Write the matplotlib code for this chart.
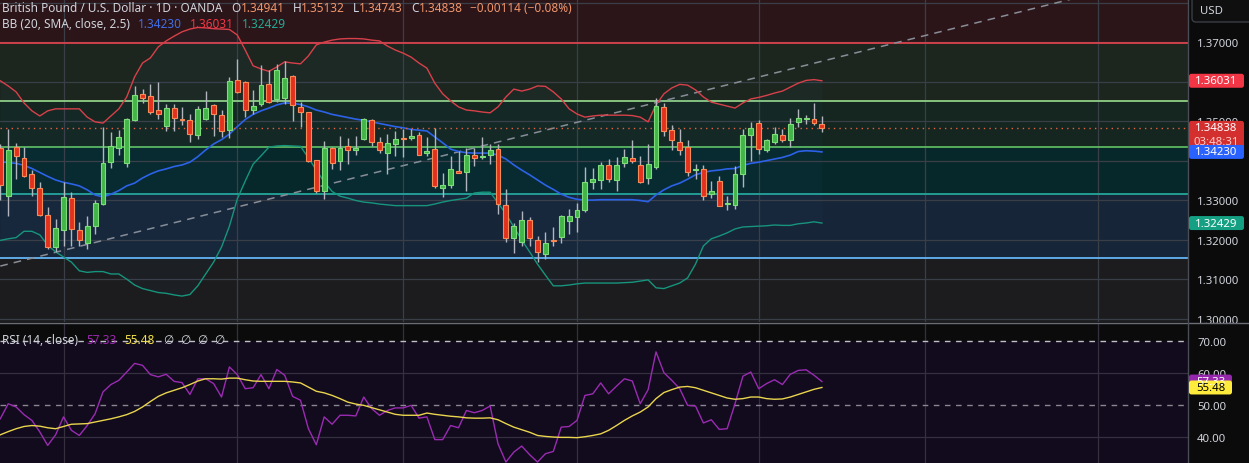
import matplotlib
matplotlib.use("Agg")
import matplotlib.pyplot as plt
from matplotlib.patches import FancyBboxPatch
from matplotlib.lines import Line2D
from matplotlib.transforms import IdentityTransform
import numpy as np

# ---------------- data ----------------
opens = [1.3433, 1.3312, 1.3435, 1.3408, 1.3367, 1.3331, 1.3264, 1.3183, 1.3226, 1.3306,
         1.3225, 1.3192, 1.3236, 1.3291, 1.3397, 1.3432, 1.3394, 1.3503, 1.3569, 1.3564,
         1.3528, 1.3488, 1.3534, 1.3506, 1.3503, 1.3467, 1.3506, 1.3542, 1.3517, 1.3478,
         1.3605, 1.3599, 1.3530, 1.3544, 1.3594, 1.3557, 1.3559, 1.3615, 1.3536, 1.3523,
         1.3402, 1.3325, 1.3432, 1.3401, 1.3437, 1.3427, 1.3456, 1.3504, 1.3448, 1.3421,
         1.3444, 1.3457, 1.3458, 1.3467, 1.3419, 1.3431, 1.3331, 1.3340, 1.3374, 1.3372,
         1.3415, 1.3409, 1.3416, 1.3431, 1.3288, 1.3206, 1.3194, 1.3250, 1.3199, 1.3164,
         1.3199, 1.3207, 1.3249, 1.3258, 1.3277, 1.3346, 1.3352, 1.3390, 1.3353, 1.3394,
         1.3408, 1.3390, 1.3357, 1.3384, 1.3537, 1.3479, 1.3448, 1.3435, 1.3377, 1.3380,
         1.3317, 1.3349, 1.3291, 1.3289, 1.3368, 1.3467, 1.3496, 1.3429, 1.3448, 1.3466,
         1.3454, 1.3498, 1.3506, 1.3506, 1.34941]
highs = [1.3443, 1.3481, 1.3446, 1.3436, 1.3378, 1.3347, 1.3284, 1.3253, 1.3346, 1.3321,
         1.3245, 1.3262, 1.3302, 1.3485, 1.3474, 1.3479, 1.3509, 1.3591, 1.3581, 1.3595,
         1.3599, 1.3544, 1.3544, 1.3536, 1.3519, 1.3539, 1.3578, 1.3544, 1.3529, 1.3612,
         1.3658, 1.3603, 1.3580, 1.3643, 1.3631, 1.3646, 1.3652, 1.3618, 1.3549, 1.3525,
         1.3403, 1.3450, 1.3436, 1.3463, 1.3458, 1.3463, 1.3509, 1.3506, 1.3460, 1.3469,
         1.3477, 1.3481, 1.3481, 1.3473, 1.3460, 1.3483, 1.3369, 1.3412, 1.3426, 1.3432,
         1.3432, 1.3460, 1.3443, 1.3443, 1.3328, 1.3243, 1.3273, 1.3259, 1.3211, 1.3220,
         1.3232, 1.3264, 1.3279, 1.3294, 1.3384, 1.3382, 1.3397, 1.3404, 1.3410, 1.3431,
         1.3452, 1.3412, 1.3443, 1.3559, 1.3547, 1.3490, 1.3481, 1.3454, 1.3393, 1.3390,
         1.3350, 1.3363, 1.3311, 1.3387, 1.3481, 1.3498, 1.3505, 1.3456, 1.3485, 1.3481,
         1.3508, 1.3532, 1.3517, 1.3547, 1.35132]
lows = [1.3300, 1.3262, 1.3355, 1.3360, 1.3312, 1.3262, 1.3178, 1.3170, 1.3186, 1.3186,
        1.3186, 1.3178, 1.3215, 1.3289, 1.3382, 1.3414, 1.3384, 1.3502, 1.3547, 1.3519,
        1.3506, 1.3477, 1.3477, 1.3490, 1.3449, 1.3456, 1.3505, 1.3464, 1.3460, 1.3458,
        1.3572, 1.3512, 1.3519, 1.3540, 1.3547, 1.3549, 1.3544, 1.3502, 1.3487, 1.3397,
        1.3319, 1.3304, 1.3380, 1.3376, 1.3393, 1.3414, 1.3452, 1.3439, 1.3420, 1.3367,
        1.3412, 1.3410, 1.3452, 1.3414, 1.3412, 1.3332, 1.3308, 1.3332, 1.3369, 1.3325,
        1.3387, 1.3405, 1.3393, 1.3266, 1.3196, 1.3167, 1.3186, 1.3186, 1.3144, 1.3152,
        1.3186, 1.3193, 1.3214, 1.3221, 1.3270, 1.3329, 1.3329, 1.3346, 1.3325, 1.3384,
        1.3394, 1.3345, 1.3342, 1.3380, 1.3463, 1.3429, 1.3414, 1.3361, 1.3355, 1.3300,
        1.3307, 1.3285, 1.3275, 1.3279, 1.3335, 1.3401, 1.3418, 1.3422, 1.3443, 1.3448,
        1.3435, 1.3485, 1.3494, 1.3491, 1.34743]
closes = [1.3340, 1.3428, 1.3412, 1.3363, 1.3331, 1.3264, 1.3183, 1.3230, 1.3308, 1.3227,
          1.3199, 1.3236, 1.3293, 1.3395, 1.3437, 1.3460, 1.3506, 1.3567, 1.3560, 1.3525,
          1.3518, 1.3534, 1.3508, 1.3504, 1.3468, 1.3532, 1.3534, 1.3518, 1.3475, 1.3602,
          1.3574, 1.3530, 1.3539, 1.3592, 1.3549, 1.3631, 1.3610, 1.3542, 1.3523, 1.3400,
          1.3323, 1.3433, 1.3394, 1.3433, 1.3429, 1.3433, 1.3506, 1.3448, 1.3427, 1.3445,
          1.3456, 1.3456, 1.3464, 1.3415, 1.3426, 1.3336, 1.3340, 1.3380, 1.3369, 1.3414,
          1.3407, 1.3413, 1.3427, 1.3292, 1.3205, 1.3235, 1.3250, 1.3205, 1.3169, 1.3193,
          1.3198, 1.3261, 1.3261, 1.3276, 1.3346, 1.3355, 1.3390, 1.3355, 1.3390, 1.3410,
          1.3401, 1.3346, 1.3392, 1.3539, 1.3477, 1.3452, 1.3429, 1.3373, 1.3378, 1.3312,
          1.3324, 1.3287, 1.3292, 1.3367, 1.3466, 1.3483, 1.3431, 1.3453, 1.3469, 1.3454,
          1.3494, 1.3508, 1.3507, 1.3495, 1.34838]

bb_upper = [1.3603, 1.3590, 1.3575, 1.3547, 1.3527, 1.3514, 1.3527, 1.3532, 1.3532, 1.3532,
            1.3532, 1.3511, 1.3499, 1.3496, 1.3514, 1.3532, 1.3562, 1.3613, 1.3648, 1.3661,
            1.3689, 1.3704, 1.3716, 1.3727, 1.3734, 1.3738, 1.3737, 1.3735, 1.3734, 1.3733,
            1.3719, 1.3681, 1.3641, 1.3633, 1.3627, 1.3638, 1.3651, 1.3648, 1.3646, 1.3666,
            1.3694, 1.3701, 1.3706, 1.3709, 1.3710, 1.3710, 1.3709, 1.3706, 1.3704, 1.3691,
            1.3681, 1.3673, 1.3663, 1.3648, 1.3635, 1.3597, 1.3570, 1.3552, 1.3537, 1.3529,
            1.3527, 1.3524, 1.3522, 1.3537, 1.3562, 1.3582, 1.3577, 1.3582, 1.3590, 1.3589,
            1.3575, 1.3557, 1.3532, 1.3519, 1.3511, 1.3514, 1.3516, 1.3516, 1.3516, 1.3516,
            1.3515, 1.3511, 1.3499, 1.3542, 1.3570, 1.3585, 1.3594, 1.3592, 1.3580, 1.3562,
            1.3549, 1.3544, 1.3539, 1.3534, 1.3547, 1.3557, 1.3561, 1.3566, 1.3572, 1.3577,
            1.3587, 1.3597, 1.3604, 1.3606, 1.36031]
bb_mid = [1.3398, 1.3396, 1.3394, 1.3389, 1.3381, 1.3371, 1.3361, 1.3352, 1.3346, 1.3342,
          1.3337, 1.3327, 1.3314, 1.3309, 1.3316, 1.3325, 1.3337, 1.3344, 1.3357, 1.3367,
          1.3375, 1.3380, 1.3386, 1.3390, 1.3397, 1.3411, 1.3428, 1.3443, 1.3454, 1.3468,
          1.3487, 1.3505, 1.3518, 1.3527, 1.3534, 1.3542, 1.3547, 1.3546, 1.3543, 1.3537,
          1.3529, 1.3524, 1.3518, 1.3514, 1.3510, 1.3506, 1.3503, 1.3499, 1.3495, 1.3491,
          1.3487, 1.3484, 1.3480, 1.3478, 1.3476, 1.3461, 1.3446, 1.3430, 1.3424, 1.3421,
          1.3420, 1.3420, 1.3420, 1.3415, 1.3405, 1.3390, 1.3377, 1.3365, 1.3352, 1.3339,
          1.3328, 1.3316, 1.3308, 1.3303, 1.3301, 1.3301, 1.3302, 1.3302, 1.3302, 1.3302,
          1.3302, 1.3300, 1.3297, 1.3314, 1.3327, 1.3337, 1.3344, 1.3354, 1.3365, 1.3371,
          1.3375, 1.3377, 1.3380, 1.3381, 1.3389, 1.3394, 1.3397, 1.3401, 1.3405, 1.3409,
          1.3415, 1.3424, 1.3426, 1.3425, 1.34230]
bb_lower = [1.3199, 1.3203, 1.3206, 1.3222, 1.3222, 1.3213, 1.3187, 1.3170, 1.3157, 1.3144,
            1.3122, 1.3118, 1.3120, 1.3120, 1.3114, 1.3114, 1.3101, 1.3086, 1.3077, 1.3072,
            1.3067, 1.3065, 1.3061, 1.3058, 1.3062, 1.3084, 1.3114, 1.3144, 1.3182, 1.3235,
            1.3304, 1.3349, 1.3392, 1.3413, 1.3435, 1.3438, 1.3439, 1.3438, 1.3437, 1.3408,
            1.3377, 1.3347, 1.3323, 1.3311, 1.3306, 1.3300, 1.3296, 1.3294, 1.3291, 1.3289,
            1.3287, 1.3287, 1.3287, 1.3287, 1.3287, 1.3291, 1.3296, 1.3300, 1.3303, 1.3306,
            1.3319, 1.3321, 1.3321, 1.3294, 1.3266, 1.3233, 1.3200, 1.3170, 1.3139, 1.3111,
            1.3084, 1.3084, 1.3086, 1.3089, 1.3091, 1.3091, 1.3091, 1.3091, 1.3091, 1.3092,
            1.3093, 1.3096, 1.3099, 1.3079, 1.3077, 1.3084, 1.3091, 1.3104, 1.3139, 1.3185,
            1.3203, 1.3210, 1.3218, 1.3228, 1.3233, 1.3234, 1.3235, 1.3236, 1.3238, 1.3237,
            1.3237, 1.3241, 1.3243, 1.3246, 1.32429]

rsi = [45.7, 50.4, 49.4, 47.0, 45.2, 41.6, 37.4, 40.7, 46.3, 42.1,
       40.5, 43.6, 47.3, 54.1, 56.4, 57.7, 60.3, 63.0, 62.4, 59.5,
       58.8, 59.6, 57.4, 57.0, 53.3, 58.2, 58.2, 56.7, 52.5, 61.9,
       59.5, 55.1, 55.4, 59.5, 55.1, 61.1, 59.3, 52.7, 51.5, 42.6,
       37.6, 46.3, 44.0, 46.8, 46.8, 46.6, 52.5, 48.9, 46.8, 48.3,
       49.1, 49.1, 49.9, 45.9, 46.3, 39.2, 39.2, 43.6, 42.9, 48.3,
       47.6, 48.3, 49.7, 37.9, 32.2, 35.3, 37.2, 34.5, 32.2, 34.8,
       35.5, 43.1, 43.3, 45.2, 53.0, 53.5, 56.9, 53.5, 55.9, 58.2,
       57.5, 50.4, 54.8, 66.6, 60.1, 57.7, 55.1, 49.9, 49.7, 44.4,
       45.4, 42.4, 42.6, 50.4, 59.0, 60.3, 55.1, 56.7, 57.9, 56.4,
       59.6, 60.8, 61.0, 59.3, 57.33]
rsi_ma = [40.7, 41.7, 42.6, 43.3, 43.6, 43.4, 42.9, 42.6, 43.3, 44.0,
          44.1, 44.2, 44.7, 45.2, 45.7, 46.3, 47.0, 48.0, 49.4, 51.1,
          52.7, 53.8, 54.6, 55.4, 56.4, 57.5, 58.2, 58.2, 58.1, 58.4,
          58.4, 57.9, 57.5, 57.4, 57.4, 57.4, 57.4, 57.2, 56.9, 55.6,
          54.3, 53.8, 53.0, 52.0, 50.9, 50.3, 49.9, 49.2, 48.5, 47.8,
          47.1, 46.8, 46.8, 46.8, 47.5, 47.1, 46.8, 46.5, 46.3, 46.0,
          45.9, 45.9, 46.0, 45.4, 44.2, 43.1, 42.3, 41.5, 40.5, 40.2,
          40.0, 39.9, 39.9, 39.8, 40.1, 40.5, 41.0, 42.1, 43.6, 45.2,
          46.6, 47.8, 49.4, 52.0, 53.9, 54.8, 55.6, 55.8, 55.4, 54.6,
          53.8, 53.0, 52.2, 51.8, 52.0, 52.5, 52.5, 52.0, 51.8, 51.9,
          52.5, 53.3, 54.1, 54.9, 55.48]

level_prices = [1.3698, 1.3552, 1.3435, 1.3317, 1.3154]
month_starts = [8, 30, 51, 73, 96, 117, 139]
trend_idx = [0, 137]
trend_price = [1.3134, 1.3817]
price_ticks = [1.30, 1.31, 1.32, 1.33, 1.34, 1.35, 1.36, 1.37]
hidden_ticks = [1.34, 1.36]          # fully covered by price tags in the reference
rsi_ticks = [40, 50, 60, 70]
title = "British Pound / U.S. Dollar · 1D · OANDA"
change_text = "\u22120.00114 (\u22120.08%)"
countdown = "03:48:31"

# ---------------- figure ----------------
W, H = 1249, 464
fig = plt.figure(figsize=(W / 100, H / 100), dpi=100, facecolor="#0b0b0b")
FONT = "Noto Sans"
plt.rcParams["font.family"] = [FONT, "DejaVu Sans"]

chart_right = 1188
ax = fig.add_axes([0, (H - 323) / H, chart_right / W, 323 / H])
rax = fig.add_axes([0, 0, chart_right / W, 139 / H])

n = len(closes)
idx = np.arange(n)
x0, x1 = -0.038, 150.34
for a in (ax, rax):
    a.set_xlim(x0, x1)
    for s in a.spines.values():
        s.set_visible(False)
    a.set_xticks([])
    a.yaxis.tick_right()
    a.tick_params(axis="y", length=0, pad=6.5, labelsize=8.2, labelcolor="#d1d4dc")

ax.set_ylim(1.29924, 1.38101)
rax.set_ylim(31.9, 75.3)

# background bands
band_edges = [1.40] + level_prices + [1.28]
band_colors = ["#2b1519", "#1c261f", "#14261f", "#07282a", "#172538", "#1c1c1e"]
for top, bot, col in zip(band_edges[:-1], band_edges[1:], band_colors):
    ax.axhspan(bot, top, color=col, zorder=0, lw=0)

# grid
for p in price_ticks + [1.38]:
    ax.axhline(p, color="#3a3e46", lw=0.9, zorder=1)
for m in month_starts:
    ax.axvline(m, color="#3a3e46", lw=0.9, zorder=1)
    rax.axvline(m, color="#352f3e", lw=0.9, zorder=1)

level_colors = ["#d9424c", "#8fcf86", "#5cb85f", "#26a69a", "#64b5f6"]
for p, c in zip(level_prices, level_colors):
    ax.axhline(p, color=c, lw=1.3, zorder=2)

# trend line
ax.plot(trend_idx, trend_price, color="#8a8d96", lw=1.1, ls=(0, (5, 4)), zorder=2)

# Bollinger bands
ax.fill_between(idx, bb_lower, bb_upper, color="#2196f3", alpha=0.03, lw=0, zorder=2)
ax.plot(idx, bb_upper, color="#d8404a", lw=1.0, zorder=3)
ax.plot(idx, bb_mid, color="#2c62e8", lw=1.2, zorder=3)
ax.plot(idx, bb_lower, color="#16947c", lw=1.0, zorder=3)

# last price dotted line
ax.axhline(closes[-1], color="#e8603c", lw=1.0, ls=(0, (1, 3)), zorder=3)

# candles
o = np.array(opens); c = np.array(closes); h = np.array(highs); l = np.array(lows)
up = c >= o
ax.vlines(idx, l, h, color="#b2b5be", lw=1.0, zorder=4)
bottoms = np.minimum(o, c)
heights = np.maximum(np.abs(c - o), 0.00025)
ax.bar(idx[up], heights[up], bottom=bottoms[up], width=0.62, color="#43b548",
       edgecolor="#7fdc7a", lw=0.8, zorder=5)
ax.bar(idx[~up], heights[~up], bottom=bottoms[~up], width=0.62, color="#e2321f",
       edgecolor="#f78a55", lw=0.8, zorder=5)

# price axis ticks
ax.set_yticks(price_ticks)
ax.set_yticklabels(["" if any(abs(p - q) < 1e-9 for q in hidden_ticks) else f"{p:.5f}"
                    for p in price_ticks])

# ---------------- RSI panel ----------------
rax.set_facecolor("#0b0b0b")
rax.axhspan(30, 70, color="#120a1d", lw=0, zorder=0)
for v in (40, 60):
    rax.axhline(v, color="#35303f", lw=0.9, zorder=1)
rax.axhline(70, color="#c0c0c8", lw=1.0, ls=(0, (4, 4)), zorder=2)
rax.axhline(50, color="#8a8792", lw=1.0, ls=(0, (4, 4)), zorder=2)
rax.plot(idx, rsi, color="#9a2bb2", lw=1.0, zorder=3)
rax.plot(idx, rsi_ma, color="#e9d54e", lw=1.0, zorder=4)
rax.set_yticks(rsi_ticks)
rax.set_yticklabels([f"{v:.2f}" for v in rsi_ticks])

# separators
fig.add_artist(Line2D([0, 1], [(H - 324) / H] * 2, transform=fig.transFigure,
                      color="#6a6d76", lw=1.0))
fig.add_artist(Line2D([chart_right / W] * 2, [0, 1], transform=fig.transFigure,
                      color="#4a4d55", lw=1.0))

# ---------------- price tags ----------------
def tag(a, value, lines, fc, tc, x_left=1189, x_right=1244, h=14, sub_col=None):
    y = a.transData.transform((0, value))[1]
    hh = h if len(lines) == 1 else 30
    top = y + h / 2
    box = FancyBboxPatch((x_left, top - hh), x_right - x_left, hh,
                         boxstyle="round,pad=0,rounding_size=2.5",
                         fc=fc, ec="none", transform=IdentityTransform(), zorder=5)
    fig.add_artist(box)
    cx = (x_left + x_right) / 2
    fig.text(cx / W, y / H, lines[0], color=tc, fontsize=8.2, ha="center", va="center",
             zorder=6)
    if len(lines) > 1:
        fig.text(cx / W, (y - 14) / H, lines[1], color=sub_col or tc, fontsize=8.2,
                 ha="center", va="center", zorder=6)

tag(ax, bb_upper[-1], [f"{bb_upper[-1]:.5f}"], "#f23645", "white")
tag(ax, closes[-1], [f"{closes[-1]:.5f}", countdown], "#d32f2f", "white", sub_col="#ffc9c9")
tag(ax, bb_mid[-1], [f"{bb_mid[-1]:.5f}"], "#2962ff", "white")
tag(ax, bb_lower[-1], [f"{bb_lower[-1]:.5f}"], "#15a083", "white")
tag(rax, rsi[-1], [f"{rsi[-1]:.2f}"], "#9427ab", "white", x_right=1232)
tag(rax, rsi_ma[-1], [f"{rsi_ma[-1]:.2f}"], "#ffeb3b", "black", x_right=1232)

# USD box
fig.add_artist(FancyBboxPatch((1192, H - 23), 70, 30, boxstyle="round,pad=0,rounding_size=4",
                              fc="#0f0f0f", ec="#3a3d45", lw=1.0,
                              transform=IdentityTransform(), zorder=5))
fig.text(1200 / W, (H - 12) / H, "USD", color="#d1d4dc", fontsize=8.2, ha="left",
         va="center", zorder=6)

# ---------------- header texts ----------------
fig.canvas.draw()
renderer = fig.canvas.get_renderer()

def chain(x_px, y_px, parts, size=8.5, weight="normal"):
    x = x_px
    for s, col, gap in parts:
        x += gap
        t = fig.text(x / W, 1 - y_px / H, s, color=col, fontsize=size, ha="left",
                     va="center", zorder=7, fontweight=weight)
        bb = t.get_window_extent(renderer=renderer)
        x = bb.x1

val_col = "#f0956a"
txt_col = "#d1d4dc"
chain(2, 9, [(title, txt_col, 0),
             ("O", txt_col, 9), (f"{opens[-1]:.5f}", val_col, 0),
             ("H", txt_col, 8), (f"{highs[-1]:.5f}", val_col, 0),
             ("L", txt_col, 8), (f"{lows[-1]:.5f}", val_col, 0),
             ("C", txt_col, 8), (f"{closes[-1]:.5f}", val_col, 0),
             (change_text, val_col, 8)])
chain(2, 24, [("BB (20, SMA, close, 2.5)", txt_col, 0),
              (f"{bb_mid[-1]:.5f}", "#3f6fe6", 8),
              (f"{bb_upper[-1]:.5f}", "#f23645", 8),
              (f"{bb_lower[-1]:.5f}", "#22ab94", 8)])
chain(2, 341, [("RSI (14, close)", txt_col, 0),
               (f"{rsi[-1]:.2f}", "#9c27b0", 8),
               (f"{rsi_ma[-1]:.2f}", "#f2e04a", 8),
               ("\u2205", txt_col, 8), ("\u2205", txt_col, 7),
               ("\u2205", txt_col, 7), ("\u2205", txt_col, 7)])

fig.savefig("out.png", dpi=100, facecolor=fig.get_facecolor())
